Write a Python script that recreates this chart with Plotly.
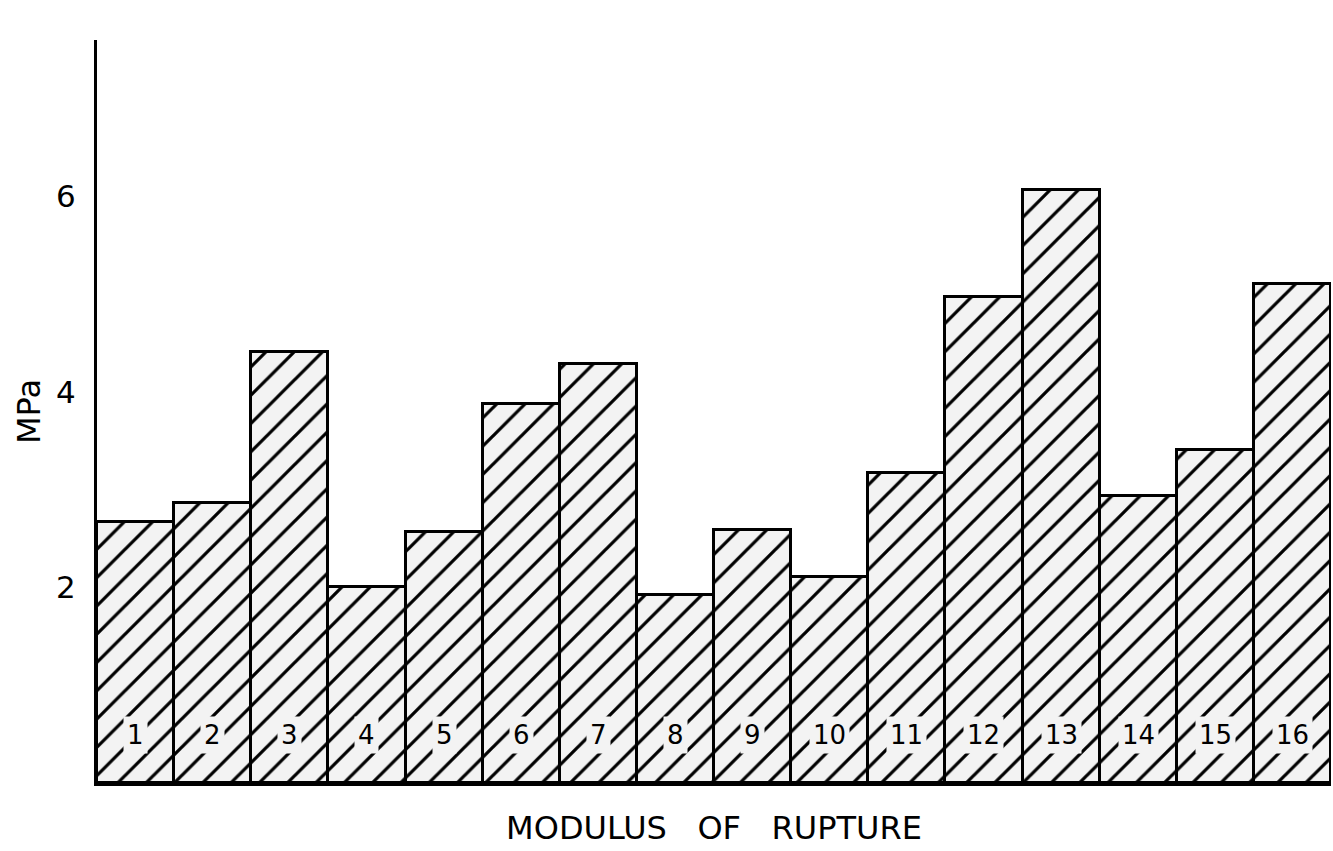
import plotly.graph_objects as go

specimens = list(range(1, 17))
mor_mpa = [2.67, 2.86, 4.41, 2.01, 2.57, 3.88, 4.29, 1.92, 2.59, 2.11, 3.17, 4.97, 6.07, 2.94, 3.41, 5.10]
tick_vals = [2, 4, 6]
tick_text = ["2", "4", "6"]
label_level = 0.49

FONT = "DejaVu Sans"
BAR_BG = "#f3f3f3"

fig = go.Figure()
fig.add_trace(go.Bar(
    x=specimens,
    y=mor_mpa,
    marker=dict(
        color=BAR_BG,
        line=dict(color="black", width=3),
        pattern=dict(shape="/", size=20, solidity=0.16, fgcolor="black", fgopacity=1,
                     bgcolor=BAR_BG, fillmode="overlay"),
    ),
    hoverinfo="x+y",
))

for s in specimens:
    fig.add_annotation(
        x=s, y=label_level, xref="x", yref="y",
        text=str(s), showarrow=False,
        font=dict(family=FONT, size=26, color="black"),
        bgcolor=BAR_BG, borderpad=3,
    )

fig.update_layout(
    width=1333, height=851,
    margin=dict(l=97, r=2, t=40, b=68),
    paper_bgcolor="white", plot_bgcolor="white",
    bargap=0,
    showlegend=False,
    font=dict(family=FONT, color="black"),
)
fig.update_xaxes(
    range=[0.5, 16.5],
    showgrid=False, zeroline=False,
    showline=True, linewidth=3, linecolor="black",
    showticklabels=False, ticks="",
    title=dict(text="MODULUS\u00a0\u00a0 OF\u00a0\u00a0 RUPTURE",
               font=dict(family=FONT, size=32, color="black"), standoff=32),
)
fig.update_yaxes(
    range=[0, 7.6],
    showgrid=False, zeroline=False,
    showline=True, linewidth=3, linecolor="black",
    tickvals=tick_vals, ticktext=tick_text, ticks="",
    ticklabelstandoff=12,
    tickfont=dict(family=FONT, size=31, color="black"),
    title=dict(text="MPa", font=dict(family=FONT, size=32, color="black"), standoff=6),
)

fig.write_html(
    "out.html",
    config={"displayModeBar": False},
    post_script="document.body.style.margin='0';document.body.style.overflow='hidden';",
)
